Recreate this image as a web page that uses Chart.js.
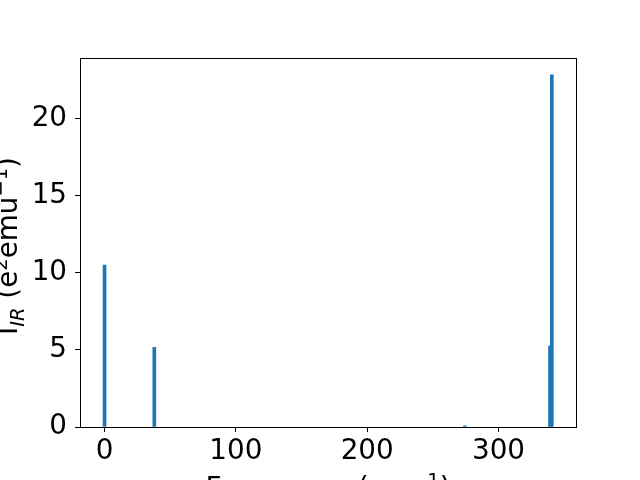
<!DOCTYPE html>
<html>
<head>
<meta charset="utf-8">
<script src="https://cdn.jsdelivr.net/npm/chart.js@4"></script>
<style>
  body { margin: 0; background: #fff; }
  canvas { display: block; }
</style>
</head>
<body>
<canvas id="chart" width="640" height="480"></canvas>
<script>
// IR spectrum values
const frequencies = [0, 37.9, 274.4, 339.2, 340.6];
const intensities = [10.52, 5.17, 0.07, 5.26, 22.86];
const xTicks = [0, 100, 200, 300];
const yTicks = [0, 5, 10, 15, 20];

const FONT = "'DejaVu Sans', sans-serif";
const BLUE = '#1f77b4';

// draws text pieces (normal / sub / sup) one after the other
function drawPieces(ctx, pieces, x, y, size, align) {
    const widths = pieces.map(p => {
        ctx.font = (p.italic ? 'italic ' : '') + (p.small ? size * 0.7 : size) + 'px ' + FONT;
        return ctx.measureText(p.t).width;
    });
    const total = widths.reduce((a, b) => a + b, 0);
    let cx = align === 'center' ? x - total / 2 : x;
    pieces.forEach((p, i) => {
        ctx.font = (p.italic ? 'italic ' : '') + (p.small ? size * 0.7 : size) + 'px ' + FONT;
        ctx.fillText(p.t, cx, y + (p.dy || 0));
        cx += widths[i];
    });
}

const framePlugin = {
    id: 'frame',
    afterDraw(chart) {
        const { ctx, chartArea: a } = chart;
        ctx.save();
        ctx.strokeStyle = '#000';
        ctx.lineWidth = 1;
        ctx.strokeRect(Math.round(a.left) + 0.5, Math.round(a.top) + 0.5,
            Math.round(a.right - a.left), Math.round(a.bottom - a.top));

        ctx.fillStyle = '#000';
        ctx.textBaseline = 'alphabetic';
        ctx.textAlign = 'left';
        // x label
        drawPieces(ctx, [
            { t: 'Frequency (cm' },
            { t: '\u22121', small: true, dy: -10 },
            { t: ')' }
        ], (a.left + a.right) / 2, 497, 27.8, 'center');
        // y label
        ctx.translate(16.5, 246);
        ctx.rotate(-Math.PI / 2);
        drawPieces(ctx, [
            { t: 'I' },
            { t: 'IR', small: true, italic: true, dy: 7 },
            { t: ' (e' },
            { t: '2', small: true, dy: -10 },
            { t: 'emu' },
            { t: '\u22121', small: true, dy: -10 },
            { t: ')' }
        ], 0, 0, 27.8, 'center');
        ctx.restore();
    }
};

new Chart(document.getElementById('chart'), {
    type: 'bar',
    data: {
        datasets: [{
            data: frequencies.map((f, i) => ({ x: f, y: intensities[i] })),
            backgroundColor: BLUE,
            borderWidth: 0,
            barThickness: 3
        }]
    },
    options: {
        responsive: false,
        animation: false,
        devicePixelRatio: 1,
        layout: { padding: { top: 58, right: 64, left: 0, bottom: 0 } },
        plugins: { legend: { display: false }, tooltip: { enabled: false } },
        scales: {
            x: {
                type: 'linear',
                min: -18.7,
                max: 359,
                offset: false,
                grid: { offset: false, drawOnChartArea: false, drawTicks: true, tickLength: 5, color: '#000' },
                border: { display: true, color: '#000' },
                afterFit: s => { s.height = 53; },
                afterBuildTicks: s => { s.ticks = xTicks.map(v => ({ value: v })); },
                ticks: {
                    padding: 3,
                    color: '#000',
                    font: { family: FONT, size: 27.8 },
                    maxRotation: 0,
                    autoSkip: false
                }
            },
            y: {
                min: 0,
                max: 23.96,
                grid: { drawOnChartArea: false, drawTicks: true, tickLength: 5, color: '#000' },
                border: { display: true, color: '#000' },
                afterFit: s => { s.width = 80; },
                afterBuildTicks: s => { s.ticks = yTicks.map(v => ({ value: v })); },
                ticks: {
                    padding: 8,
                    color: '#000',
                    font: { family: FONT, size: 27.8 }
                }
            }
        }
    },
    plugins: [framePlugin]
});
</script>
</body>
</html>
